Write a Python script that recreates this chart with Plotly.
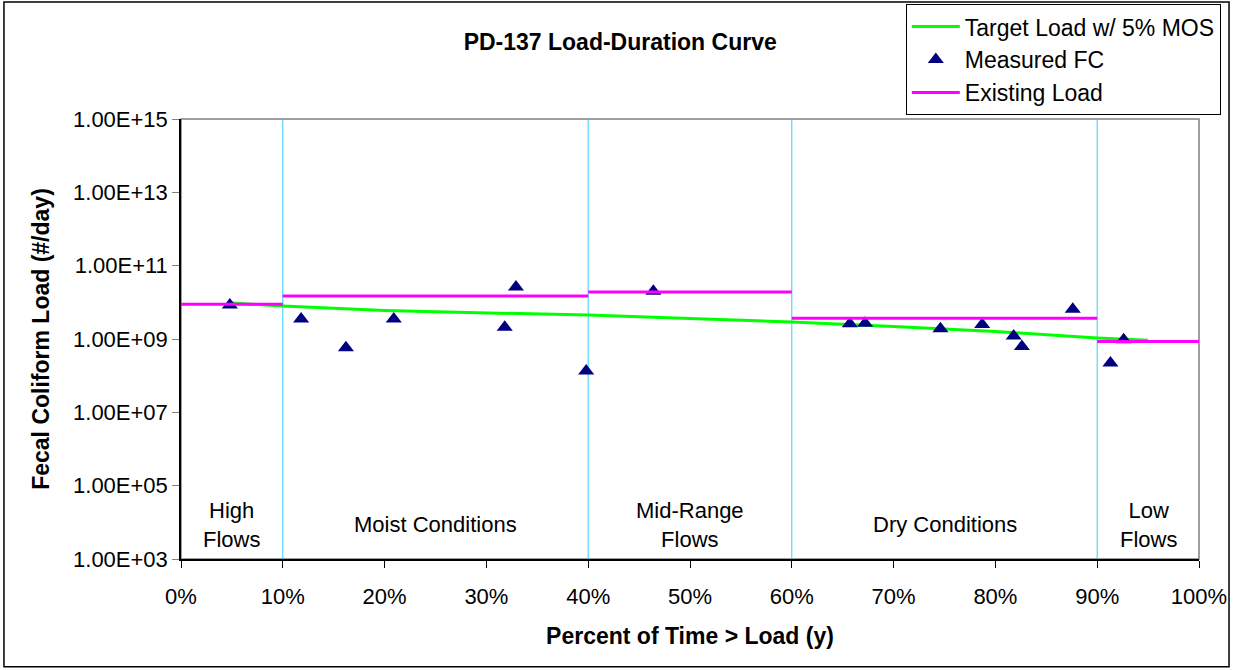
import plotly.graph_objects as go

# Flow-regime boundaries (percent of time load is exceeded) and labels
zone_edges = [0, 10, 40, 60, 90, 100]
zone_labels = ["High<br>Flows", "Moist Conditions", "Mid-Range<br>Flows", "Dry Conditions", "Low<br>Flows"]
zone_label_x = [5, 25, 50, 75, 95]

# Existing load per flow regime (#/day)
existing_load = [8.9e9, 1.5e10, 1.9e10, 3.7e9, 8.5e8]

# Target load with 5% margin of safety
target_pct = [5, 10, 15, 20, 25, 30, 35, 40, 50, 60, 70, 80, 90, 95]
target_load = [9.6e9, 7.9e9, 6.9e9, 6.0e9, 5.5e9, 5.1e9, 4.8e9, 4.5e9,
               3.6e9, 2.9e9, 2.2e9, 1.6e9, 1.07e9, 9.3e8]

# Measured fecal coliform loads
measured_pct = [4.8, 11.8, 16.2, 20.9, 31.8, 32.9, 39.8, 46.4, 65.7, 67.2,
                74.6, 78.7, 81.8, 82.6, 87.6, 91.3, 92.6]
measured_load = [8.5e9, 3.5e9, 5.8e8, 3.5e9, 2.1e9, 2.6e10, 1.35e8, 2.0e10, 2.6e9, 2.7e9,
                 1.9e9, 2.5e9, 1.2e9, 6.2e8, 6.5e9, 2.2e8, 9.5e8]

y_tickvals = [1e3, 1e5, 1e7, 1e9, 1e11, 1e13, 1e15]
y_ticktext = ["1.00E+03", "1.00E+05", "1.00E+07", "1.00E+09", "1.00E+11", "1.00E+13", "1.00E+15"]
x_tickvals = list(range(0, 101, 10))
x_ticktext = [f"{v}%" for v in x_tickvals]

FONT = "Liberation Sans, Arial, sans-serif"

# Existing load as separate horizontal segments per regime
ex_x, ex_y = [], []
for i, v in enumerate(existing_load):
    ex_x += [zone_edges[i], zone_edges[i + 1], None]
    ex_y += [v, v, None]

fig = go.Figure()
fig.add_trace(go.Scatter(x=target_pct, y=target_load, mode="lines",
                         line=dict(color="#00FF00", width=3),
                         name="Target Load w/ 5% MOS"))
fig.add_trace(go.Scatter(x=measured_pct, y=measured_load, mode="markers",
                         marker=dict(symbol="triangle-up", size=14, color="#000080"),
                         name="Measured FC"))
fig.add_trace(go.Scatter(x=ex_x, y=ex_y, mode="lines",
                         line=dict(color="#FF00FF", width=3),
                         name="Existing Load"))

shapes = []
# plot-area frame
shapes.append(dict(type="rect", xref="paper", yref="paper", x0=0, x1=1, y0=0, y1=1,
                   line=dict(color="#808080", width=1.5), layer="below"))
# regime dividers
for e in zone_edges[1:-1]:
    shapes.append(dict(type="line", xref="x", yref="paper", x0=e, x1=e, y0=0, y1=1,
                       line=dict(color="#33CCFF", width=1), layer="below"))
# outer chart border
shapes.append(dict(type="rect", xref="paper", yref="paper",
                   x0=-0.1739, x1=1.0295, y0=-0.245, y1=1.266,
                   line=dict(color="black", width=1.5)))

annotations = [dict(x=xp, y=0.078, xref="x", yref="paper", text=t, showarrow=False,
                    xanchor="center", yanchor="middle",
                    font=dict(size=22, color="black", family=FONT), align="center")
               for xp, t in zip(zone_label_x, zone_labels)]

fig.update_layout(
    width=1233, height=670,
    margin=dict(l=181, r=34, t=119, b=111, autoexpand=False),
    paper_bgcolor="white", plot_bgcolor="white",
    font=dict(family=FONT, size=22, color="black"),
    title=dict(text="<b>PD-137 Load-Duration Curve</b>", x=0.503, xanchor="center",
               y=0.937, yanchor="middle", font=dict(size=23, color="black", family=FONT)),
    xaxis=dict(range=[0, 100], tickvals=x_tickvals, ticktext=x_ticktext,
               showgrid=False, zeroline=False, showline=True, linecolor="black", linewidth=1.5,
               ticks="outside", ticklen=7, tickcolor="black", ticklabelstandoff=10,
               tickfont=dict(size=22, color="black", family=FONT),
               title=dict(text="<b>Percent of Time > Load (y)</b>", standoff=20,
                          font=dict(size=23, color="black", family=FONT))),
    yaxis=dict(type="log", range=[3, 15], tickvals=y_tickvals, ticktext=y_ticktext,
               showgrid=False, zeroline=False, showline=True, linecolor="black", linewidth=1.5,
               ticks="outside", ticklen=7, tickcolor="#808080",
               tickfont=dict(size=22, color="black", family=FONT),
               title=dict(text="<b>Fecal Coliform Load (#/day)</b>", standoff=17,
                          font=dict(size=23, color="black", family=FONT))),
    legend=dict(x=0.712, y=1.261, xanchor="left", yanchor="top",
                bgcolor="white", bordercolor="black", borderwidth=1,
                font=dict(size=23, color="black", family=FONT),
                itemwidth=48, tracegroupgap=0),
    shapes=shapes, annotations=annotations, showlegend=True,
)

fig.write_html("out.html")
